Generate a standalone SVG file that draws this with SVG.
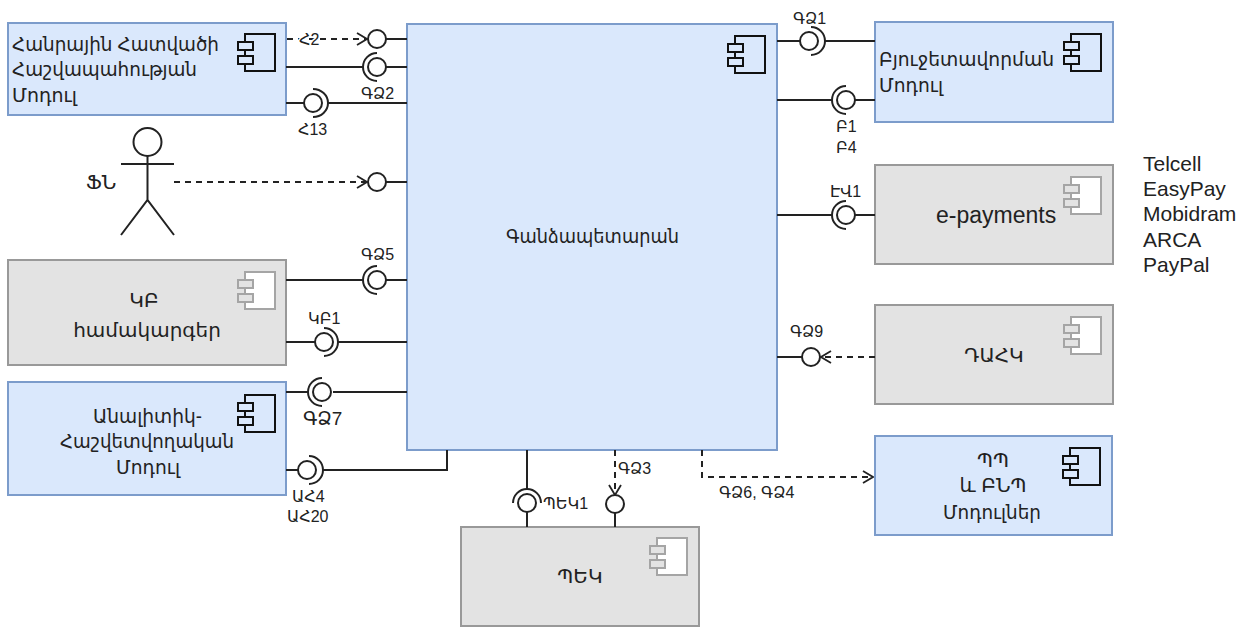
<svg xmlns="http://www.w3.org/2000/svg" width="1249" height="627" viewBox="0 0 1249 627">
<style>
text{font-family:"Liberation Sans","DejaVu Sans",sans-serif;fill:#222;font-size:20px}
.m{text-anchor:middle}
.s{font-size:16px}
.blue{fill:#dae8fc;stroke:#7c9ccb;stroke-width:2}
.gray{fill:#e3e3e3;stroke:#999;stroke-width:2}
.ib{fill:#dae8fc;stroke:#111;stroke-width:2}
.ig{fill:#fff;stroke:#a5a5a5;stroke-width:2}
.ig2{fill:#e3e3e3;stroke:#a5a5a5;stroke-width:2}
.l{fill:none;stroke:#222;stroke-width:2}
.d{fill:none;stroke:#222;stroke-width:2;stroke-dasharray:6 5}
.c{fill:#fff;fill-opacity:0;stroke:#222;stroke-width:2}
</style>
<defs>
<marker id="a" viewBox="0 0 12 14" refX="11" refY="7" markerWidth="12" markerHeight="14" markerUnits="userSpaceOnUse" orient="auto"><path d="M1 1L11 7L1 13" fill="none" stroke="#222" stroke-width="1.8"/></marker>
<g id="icb"><rect x="7" y="0" width="30" height="37" class="ib"/><rect x="0" y="8" width="15" height="8" class="ib"/><rect x="0" y="22" width="15" height="8" class="ib"/></g>
<g id="icg"><rect x="7" y="0" width="30" height="37" class="ig"/><rect x="0" y="8" width="15" height="8" class="ig2"/><rect x="0" y="22" width="15" height="8" class="ig2"/></g>
</defs>
<g id="main"><rect x="407" y="24" width="370" height="426" class="blue"/><use href="#icb" x="728" y="36"/><text x="506" y="243" textLength="173" lengthAdjust="spacingAndGlyphs">Գանձապետարան</text></g>
<g id="hashvapah"><rect x="8" y="23" width="278" height="92" class="blue"/><use href="#icb" x="238" y="34"/><text x="12" y="51" textLength="207" lengthAdjust="spacingAndGlyphs">Հանրային Հատվածի</text><text x="12" y="76" textLength="185" lengthAdjust="spacingAndGlyphs">Հաշվապահության</text><text x="12" y="102" textLength="65" lengthAdjust="spacingAndGlyphs">Մոդուլ</text></g>
<g id="actor"><circle cx="147.500" cy="142" r="14" class="c"/><path d="M121 164H174M147.500 156V200M121 235L147.500 200L174 235" class="l"/><text x="86" y="189">ՖՆ</text></g>
<g id="kb"><rect x="8" y="260" width="278" height="105" class="gray"/><use href="#icg" x="238" y="272"/><text class="m" x="144" y="307">ԿԲ</text><text class="m" x="147" y="337">համակարգեր</text></g>
<g id="analytic"><rect x="8" y="382" width="278" height="113" class="blue"/><use href="#icb" x="238" y="395"/><text x="93" y="423" textLength="109" lengthAdjust="spacingAndGlyphs">Անալիտիկ-</text><text x="60" y="448" textLength="174" lengthAdjust="spacingAndGlyphs">Հաշվետվողական</text><text x="116" y="474" textLength="64" lengthAdjust="spacingAndGlyphs">Մոդուլ</text></g>
<g id="budget"><rect x="875" y="22" width="238" height="100" class="blue"/><use href="#icb" x="1064" y="34"/><text x="879" y="66" textLength="175" lengthAdjust="spacingAndGlyphs">Բյուջետավորման</text><text x="879" y="92" textLength="64" lengthAdjust="spacingAndGlyphs">Մոդուլ</text></g>
<g id="epayments"><rect x="875" y="165" width="238" height="99" class="gray"/><use href="#icg" x="1064" y="177"/><text x="936" y="223" style="font-size:23px">e-payments</text></g>
<g id="dahk"><rect x="875" y="305" width="238" height="99" class="gray"/><use href="#icg" x="1064" y="317"/><text class="m" x="994" y="362">ԴԱՀԿ</text></g>
<g id="pp"><rect x="875" y="436" width="237" height="99" class="blue"/><use href="#icb" x="1063" y="448"/><text class="m" x="993" y="467">ՊՊ</text><text class="m" x="993" y="492">և ԲՆՊ</text><text x="943" y="519" textLength="98" lengthAdjust="spacingAndGlyphs">Մոդուլներ</text></g>
<g id="pek"><rect x="461" y="527" width="238" height="99" class="gray"/><use href="#icg" x="650" y="538"/><text class="m" x="580" y="583">ՊԵԿ</text></g>
<g id="connectors">
<path d="M287 39H367" class="d" marker-end="url(#a)"/><circle cx="377" cy="39" r="9" class="c"/><path d="M386 39H407" class="l"/>
<path d="M286 67H363M386 67H407" class="l"/><circle cx="377" cy="67" r="9" class="c"/><path d="M377 53A14 14 0 0 0 377 81" class="l"/>
<path d="M286 103H304M328 103H407" class="l"/><circle cx="313" cy="103" r="9" class="c"/><path d="M313 89A15 14 0 0 1 313 117" class="l"/>
<path d="M174 182H367" class="d" marker-end="url(#a)"/><circle cx="377" cy="182" r="9" class="c"/><path d="M386 182H407" class="l"/>
<path d="M286 280H363M386 280H407" class="l"/><circle cx="377" cy="280" r="9" class="c"/><path d="M377 266A14 14 0 0 0 377 294" class="l"/>
<path d="M286 342H315M338 342H407" class="l"/><circle cx="324" cy="342" r="9" class="c"/><path d="M324 328A14 14 0 0 1 324 356" class="l"/>
<path d="M286 392H309M333 392H407" class="l"/><circle cx="322" cy="392" r="9" class="c"/><path d="M322 378A14 14 0 0 0 322 406" class="l"/>
<path d="M286 470H298M323 470H447V450" class="l"/><circle cx="307" cy="470" r="9" class="c"/><path d="M309 456A14 14 0 0 1 309 484" class="l"/>
<path d="M777 41H800M825 41H875" class="l"/><circle cx="809" cy="41" r="9" class="c"/><path d="M811 27A14 14 0 0 1 811 55" class="l"/>
<path d="M777 100H832M855 100H875" class="l"/><circle cx="846" cy="100" r="9" class="c"/><path d="M846 86A14 14 0 0 0 846 114" class="l"/>
<path d="M777 215H832M855 215H875" class="l"/><circle cx="846" cy="215" r="9" class="c"/><path d="M846 201A14 14 0 0 0 846 229" class="l"/>
<path d="M777 357H802" class="l"/><circle cx="811" cy="357" r="9" class="c"/><path d="M875 357H821" class="d" marker-end="url(#a)"/>
<path d="M527 450V489M527 512V527" class="l"/><circle cx="527" cy="503" r="9" class="c"/><path d="M513 503A14 14 0 0 1 541 503" class="l"/>
<path d="M615 450V495" class="d" marker-end="url(#a)"/><circle cx="615" cy="504" r="9" class="c"/><path d="M615 513V527" class="l"/>
<path d="M702 450V477H873" class="d" marker-end="url(#a)"/>
<g class="labels">
<text class="s" x="299" y="45" style="paint-order:stroke;stroke:#fff;stroke-width:3px">Հ2</text>
<text class="s" x="361" y="99">ԳՁ2</text>
<text class="s" x="298" y="135">Հ13</text>
<text class="s" x="361" y="260">ԳՁ5</text>
<text class="s" x="308" y="324">ԿԲ1</text>
<text class="s" x="303" y="425" style="font-size:19px">ԳՁ7</text>
<text class="s" x="292" y="502">ԱՀ4</text>
<text class="s" x="287" y="522">ԱՀ20</text>
<text class="s" x="793" y="24">ԳՁ1</text>
<text class="s" x="836" y="132">Բ1</text>
<text class="s" x="836" y="153">Բ4</text>
<text class="s" x="830" y="197">ԷՎ1</text>
<text class="s" x="790" y="337">ԳՁ9</text>
<text class="s" x="618" y="474">ԳՁ3</text>
<text class="s" x="719" y="498">ԳՁ6, ԳՁ4</text>
<text class="s" x="543" y="509">ՊԵԿ1</text>
</g>
</g>
<g id="vendors" style="font-size:21px"><text x="1143" y="171" style="font-size:21px">Telcell</text><text x="1143" y="196" style="font-size:21px">EasyPay</text><text x="1143" y="221" style="font-size:21px">Mobidram</text><text x="1143" y="247" style="font-size:21px">ARCA</text><text x="1143" y="272" style="font-size:21px">PayPal</text></g>
</svg>
